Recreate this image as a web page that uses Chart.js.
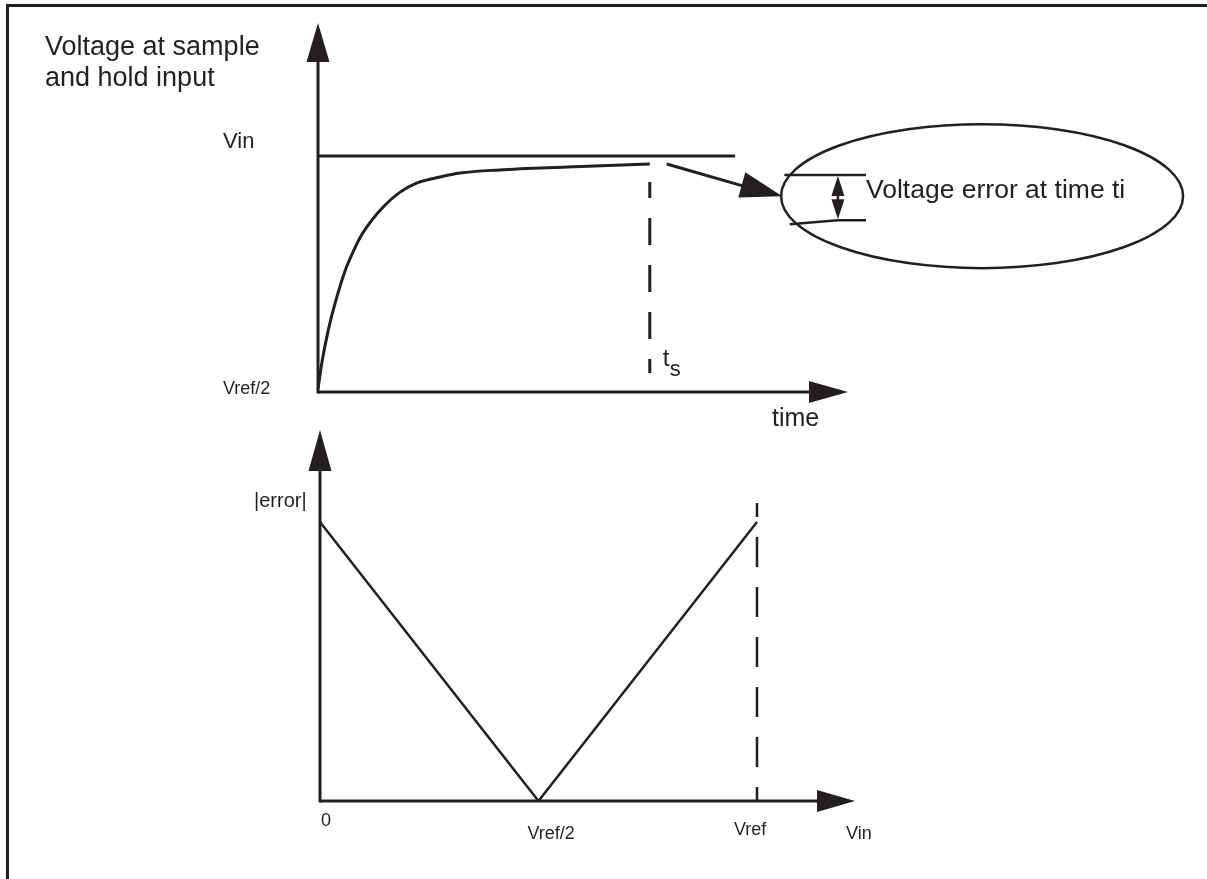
<!DOCTYPE html>
<html>
<head>
<meta charset="utf-8">
<title>Sample and hold settling error</title>
<script src="https://cdn.jsdelivr.net/npm/chart.js"></script>
<style>
  html, body { margin: 0; padding: 0; background: #fff; overflow: hidden; }
  #frame { position: absolute; left: 6px; top: 4px; width: 1210px; height: 890px;
           border-top: 3px solid #231f20; border-left: 3px solid #231f20; }
  canvas { position: absolute; left: 0; }
  #topChart { top: 0; }
  #bottomChart { top: 420px; }
</style>
</head>
<body>
<div id="frame"></div>
<canvas id="topChart" width="1207" height="440"></canvas>
<canvas id="bottomChart" width="1207" height="459"></canvas>
<script>
// ---- data: upper plot (voltage at S/H input vs time) ----
const timeX  = [0, 0.075, 0.19, 0.34, 0.51, 0.66, 0.79, 1.02, 1.23, 1.55, 1.87, 2.30, 2.68, 3.43, 4.70, 6.26];
const holdV  = [0.013, 0.127, 0.258, 0.39, 0.513, 0.593, 0.653, 0.729, 0.784, 0.847, 0.886, 0.911, 0.928, 0.941, 0.953, 0.966];
const vinLevel = 1;        // Vin
const vinLineEnd = 7.87;
const sampleTime = 6.26;   // t_s
const sampleDash = [0.89, 0.08];

// ---- data: lower plot (|error| vs Vin) ----
const vinX   = [0, 0.5, 1];
const errorY = [1, 0, 1];
const vrefDash = [1.068, 0];
const vinTickVals = [0, 0.5, 1];
const vinTickLabels = ["0", "Vref/2", "Vref"];

const INK = "#231f20";
const FONT = '"Liberation Sans", Arial, sans-serif';

function head(ctx, tx, ty, fx, fy, len, half) {
  // filled triangle, tip at (tx,ty), pointing away from (fx,fy)
  let dx = tx - fx, dy = ty - fy;
  let d = Math.sqrt(dx*dx + dy*dy);
  dx /= d; dy /= d;
  let bx = tx - dx*len, by = ty - dy*len;
  ctx.beginPath();
  ctx.moveTo(tx, ty);
  ctx.lineTo(bx - dy*half, by + dx*half);
  ctx.lineTo(bx + dy*half, by - dx*half);
  ctx.closePath();
  ctx.fill();
}

function line(ctx, x1, y1, x2, y2, w) {
  ctx.lineWidth = w;
  ctx.beginPath();
  ctx.moveTo(x1, y1);
  ctx.lineTo(x2, y2);
  ctx.stroke();
}

function text(ctx, s, x, y, size) {
  ctx.font = size + "px " + FONT;
  ctx.fillText(s, x, y);
}

const topDecor = {
  id: "topDecor",
  afterDatasetsDraw(chart) {
    const ctx = chart.ctx, a = chart.chartArea;
    const xs = chart.scales.x, ys = chart.scales.y;
    ctx.save();
    ctx.strokeStyle = INK; ctx.fillStyle = INK;
    ctx.lineCap = "butt";

    // axes with arrow heads
    line(ctx, a.left, a.bottom + 1.5, a.left, a.top + 30, 3);
    head(ctx, a.left, a.top, a.left, a.bottom, 39, 11.5);
    line(ctx, a.left, a.bottom, a.right - 30, a.bottom, 3);
    head(ctx, a.right, a.bottom, a.left, a.bottom, 39, 11);

    // labels
    text(ctx, "Voltage at sample", 45, 55, 27);
    text(ctx, "and hold input", 45, 86, 27);
    text(ctx, "Vin", 223, ys.getPixelForValue(vinLevel) - 8, 22);
    text(ctx, "Vref/2", 223, a.bottom + 2, 18);
    const ts = xs.getPixelForValue(sampleTime);
    text(ctx, "t", ts + 13, 366, 24);
    text(ctx, "s", ts + 20, 376, 22);
    text(ctx, "time", a.right - 76, a.bottom + 34, 25);

    // pointer to the magnified inset
    const p0x = xs.getPixelForValue(6.58), p0y = ys.getPixelForValue(0.966);
    const p1x = xs.getPixelForValue(8.76), p1y = ys.getPixelForValue(0.83);
    line(ctx, p0x, p0y, p1x - 30, p1y - 7.5, 3);
    head(ctx, p1x, p1y, p0x, p0y, 42, 13);

    // inset ellipse
    const cx = xs.getPixelForValue(12.53), cy = ys.getPixelForValue(0.83);
    ctx.lineWidth = 2.5;
    ctx.beginPath();
    ctx.ellipse(cx, cy, 201, 72, 0, 0, Math.PI * 2);
    ctx.stroke();

    const uY = ys.getPixelForValue(0.92);
    const lY = ys.getPixelForValue(0.728);
    const lx0 = xs.getPixelForValue(8.8), lx1 = xs.getPixelForValue(10.34);
    line(ctx, lx0, uY, lx1, uY, 2.5);
    ctx.lineWidth = 2.5;
    ctx.beginPath();
    ctx.moveTo(xs.getPixelForValue(8.9), lY + 4);
    ctx.lineTo(xs.getPixelForValue(9.81), lY);
    ctx.lineTo(lx1, lY);
    ctx.stroke();
    const ax = xs.getPixelForValue(9.81);
    line(ctx, ax, uY + 10, ax, lY - 10, 2.5);
    head(ctx, ax, uY + 1, ax, lY, 20, 6.5);
    head(ctx, ax, lY - 1, ax, uY, 20, 6.5);
    text(ctx, "Voltage error at time ti", lx1, ys.getPixelForValue(0.83) + 2, 26.5);
    ctx.restore();
  }
};

const bottomDecor = {
  id: "bottomDecor",
  afterDatasetsDraw(chart) {
    const ctx = chart.ctx, a = chart.chartArea;
    const xs = chart.scales.x;
    ctx.save();
    ctx.strokeStyle = INK; ctx.fillStyle = INK;

    line(ctx, a.left, a.bottom + 1.5, a.left, a.top + 30, 3);
    head(ctx, a.left, a.top, a.left, a.bottom, 41, 11.5);
    line(ctx, a.left, a.bottom, a.right - 30, a.bottom, 3);
    head(ctx, a.right, a.bottom, a.left, a.bottom, 38, 11);

    text(ctx, "|error|", 254, 87, 20);

    const offs = [[1, 25], [-11, 38], [-23, 34]];
    vinTickVals.forEach((v, i) => {
      text(ctx, vinTickLabels[i], xs.getPixelForValue(v) + offs[i][0], a.bottom + offs[i][1], 18);
    });
    text(ctx, "Vin", a.right - 9, a.bottom + 38, 18);
    ctx.restore();
  }
};

const common = {
  responsive: false,
  animation: false,
  events: [],
  plugins: { legend: { display: false }, tooltip: { enabled: false } },
  elements: { point: { radius: 0 } }
};

new Chart(document.getElementById("topChart"), {
  type: "line",
  data: {
    datasets: [
      {
        data: timeX.map((x, i) => ({ x: x, y: holdV[i] })),
        borderColor: INK, borderWidth: 3, cubicInterpolationMode: "monotone"
      },
      {
        data: [{ x: 0, y: vinLevel }, { x: vinLineEnd, y: vinLevel }],
        borderColor: INK, borderWidth: 3
      },
      {
        data: sampleDash.map(y => ({ x: sampleTime, y: y })),
        borderColor: INK, borderWidth: 3, borderDash: [27, 20], borderDashOffset: 11
      }
    ]
  },
  options: Object.assign({}, common, {
    layout: { padding: { left: 318, right: 359, top: 23, bottom: 48 } },
    scales: {
      x: { type: "linear", min: 0, max: 10, display: false },
      y: { type: "linear", min: 0, max: 1.5636, display: false }
    }
  }),
  plugins: [topDecor]
});

new Chart(document.getElementById("bottomChart"), {
  type: "line",
  data: {
    datasets: [
      {
        data: vinX.map((x, i) => ({ x: x, y: errorY[i] })),
        borderColor: INK, borderWidth: 2.5
      },
      {
        data: vrefDash.map(y => ({ x: 1, y: y })),
        borderColor: INK, borderWidth: 2.5, borderDash: [30, 20], borderDashOffset: 16
      }
    ]
  },
  options: Object.assign({}, common, {
    layout: { padding: { left: 320, right: 352, top: 10, bottom: 78 } },
    scales: {
      x: { type: "linear", min: 0, max: 1.2243, display: false },
      y: { type: "linear", min: 0, max: 1.3297, display: false }
    }
  }),
  plugins: [bottomDecor]
});
</script>
</body>
</html>
